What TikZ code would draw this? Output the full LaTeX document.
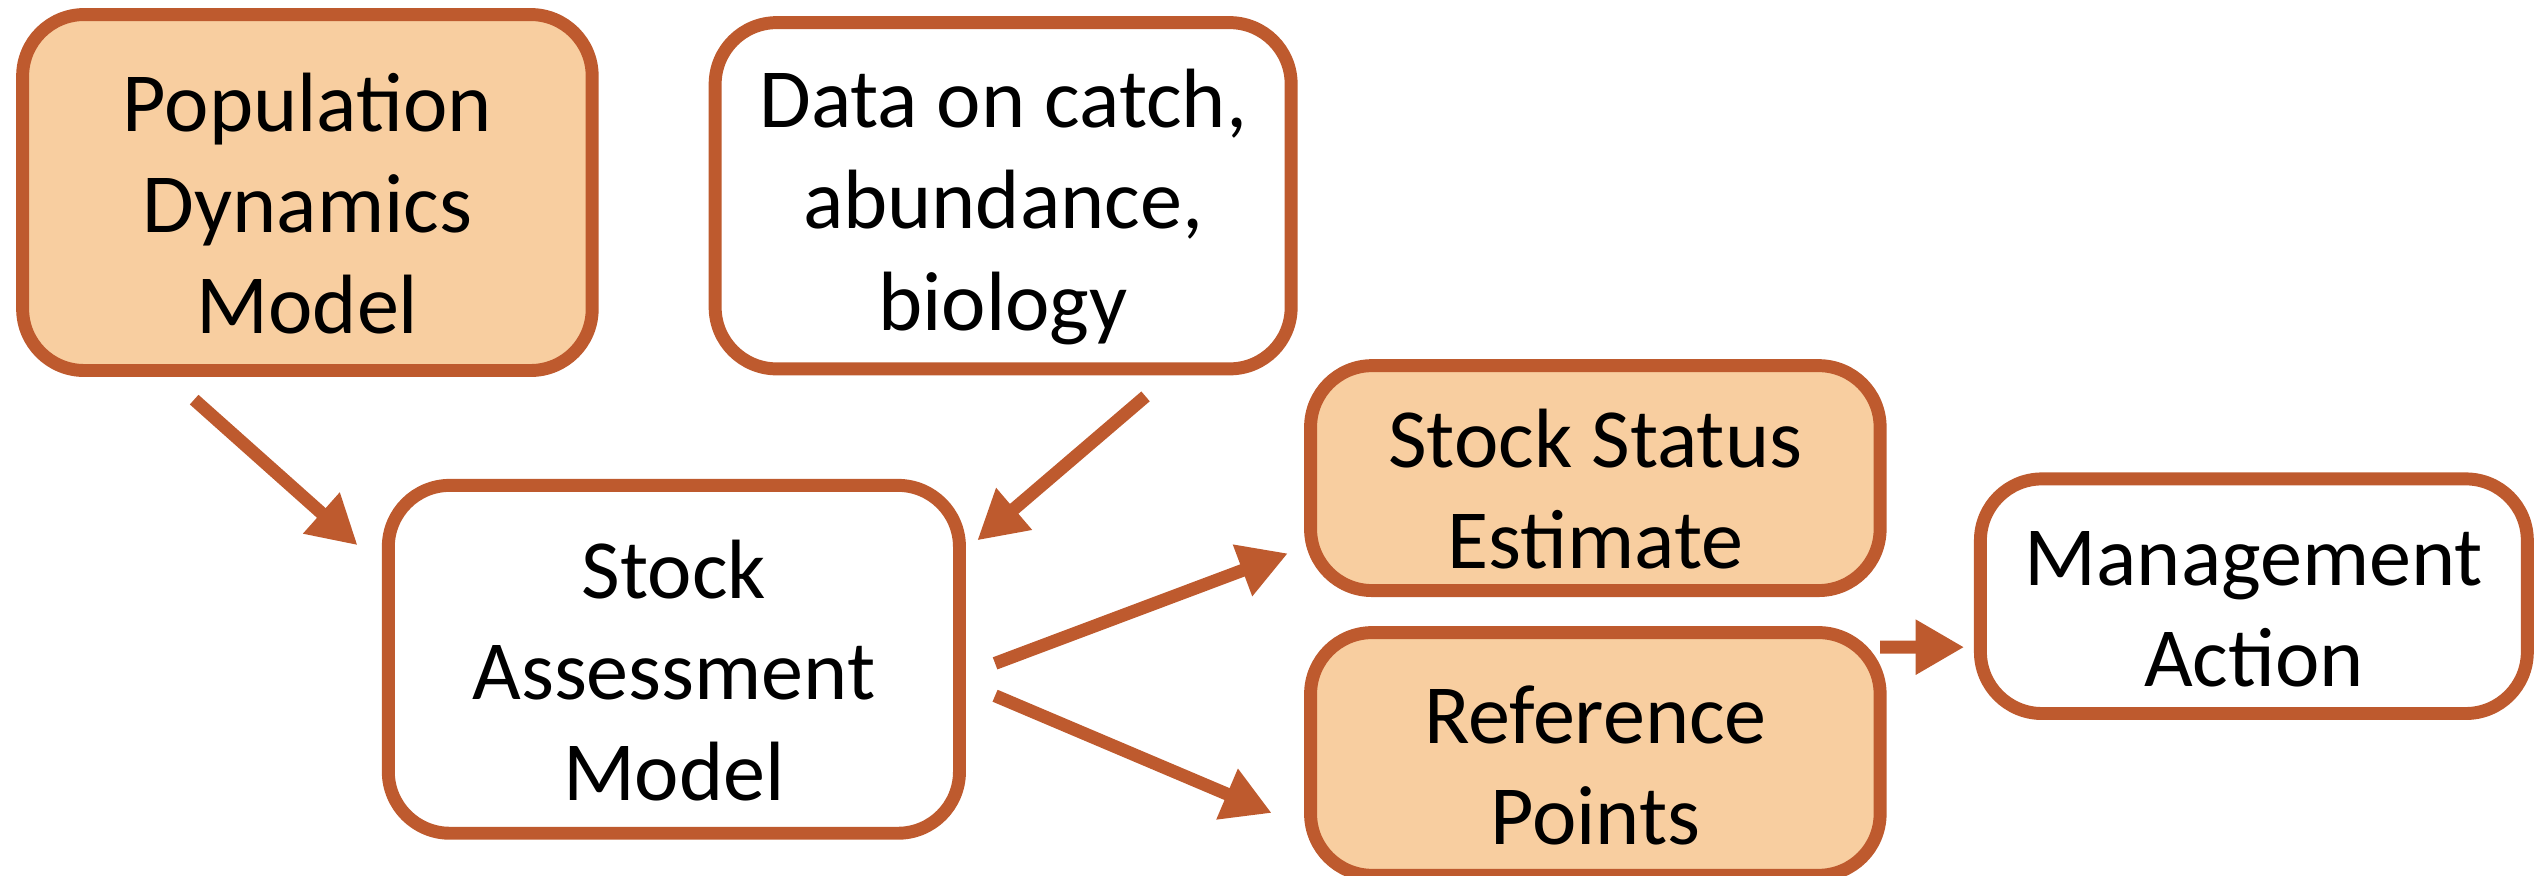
\documentclass[tikz,border=0pt]{standalone}
\usepackage{fontspec}
\setmainfont{Carlito}
\usetikzlibrary{arrows.meta,positioning}
\definecolor{rust}{RGB}{190,90,46}
\definecolor{peach}{RGB}{248,206,160}
\newcommand{\lowtext}{\rule{0pt}{0.5cm}}

\begin{document}
\begin{tikzpicture}[>={Triangle[length=0.3cm,width=0.32cm]},
	box/.style={draw=rust,line width=0.08cm,rounded corners=0.38cm,align=center,
		font=\fontsize{14.8}{17.8}\selectfont,inner sep=0pt},
	filled/.style={box,fill=peach},
	plain/.style={box,fill=white},
	flow/.style={->,draw=rust,line width=0.08cm}]
	\useasboundingbox (0,0) rectangle (15.68,-5.41);
	\node[filled,minimum width=3.52cm,minimum height=2.20cm] (pdm)  at (1.90,-1.19)  {\lowtext Population\\Dynamics\\Model};
	\node[plain,minimum width=3.56cm,minimum height=2.14cm]  (data) at (6.20,-1.21)  {\lowtext Data on catch,\\abundance,\\biology};
	\node[plain,minimum width=3.53cm,minimum height=2.15cm]  (sam)  at (4.165,-4.075) {\lowtext Stock\\Assessment\\Model};
	\node[filled,minimum width=3.52cm,minimum height=1.39cm] (sse)  at (9.86,-2.955) {\lowtext Stock Status\\Estimate};
	\node[filled,minimum width=3.52cm,minimum height=1.50cm] (rp)   at (9.86,-4.66)  {\lowtext Reference\\Points};
	\node[plain,minimum width=3.38cm,minimum height=1.45cm]  (ma)   at (13.93,-3.685) {\lowtext Management\\Action};
	% arrows between the boxes
	\draw[flow] ([shift={(-0.70,-0.14)}]pdm.south) -- ([shift={(-0.15,-0.41)}]sam.north west);
	\draw[flow] ([shift={(0.88,-0.13)}]data.south) -- ([shift={(0.07,-0.38)}]sam.north east);
	\draw[flow] ([shift={(0.18,-0.025)}]sam.east) -- ([shift={(-0.10,-0.465)}]sse.west);
	\draw[flow] ([shift={(0.18,-0.225)}]sam.east) -- ([shift={(-0.20,-0.365)}]rp.west);
	\draw[flow] ([shift={(-0.04,-0.13)}]rp.north east) -- ([shift={(-0.06,-0.315)}]ma.west);
\end{tikzpicture}
\end{document}
